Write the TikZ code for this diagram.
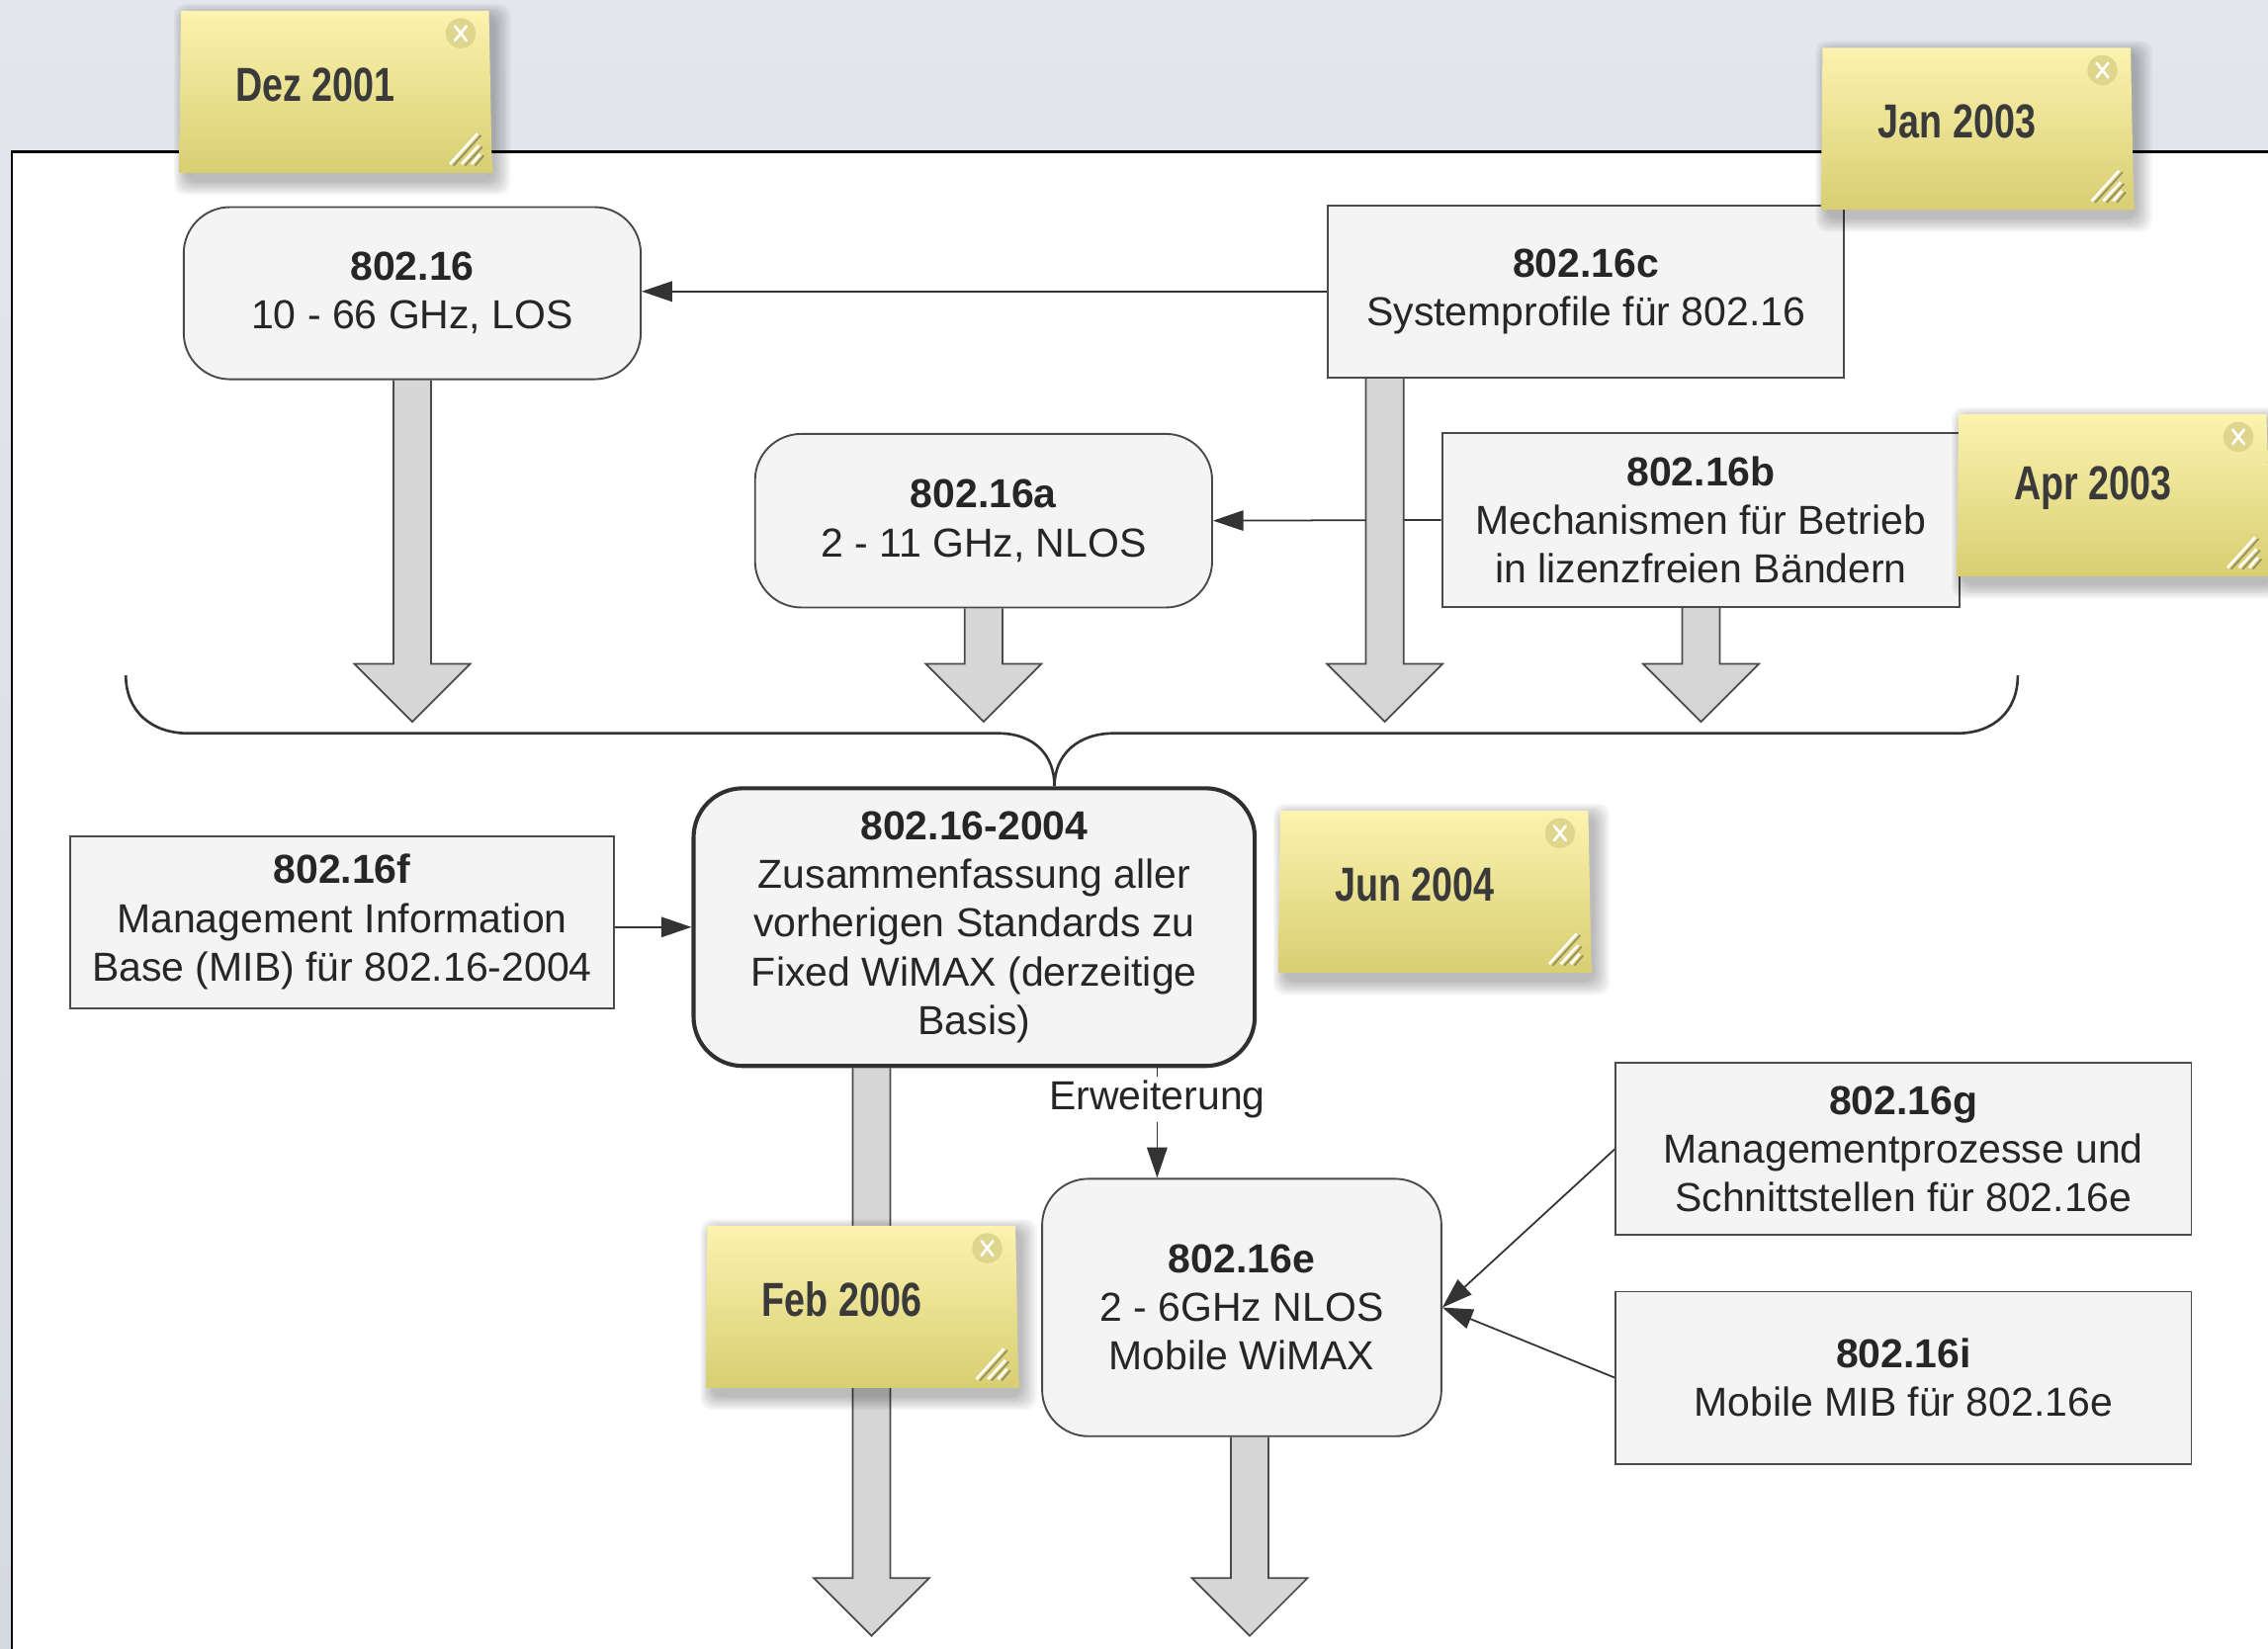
\documentclass[tikz,border=0pt]{standalone}
\usepackage{fontspec}
\setmainfont{Liberation Sans}
\newfontfamily\notefont{Liberation Sans}[FakeStretch=0.78]
\usetikzlibrary{arrows.meta,calc}
\pgfdeclarelayer{bg}
\pgfdeclarelayer{mid}
\pgfsetlayers{bg,mid,main}

\definecolor{bgTop}{HTML}{E3E6EB}
\definecolor{bgBot}{HTML}{D6DAE1}
\definecolor{boxfill}{HTML}{F4F4F4}
\definecolor{boxline}{HTML}{4A4A4A}
\definecolor{boxdark}{HTML}{303030}
\definecolor{linegray}{HTML}{333333}
\definecolor{textgray}{HTML}{262626}
\definecolor{shaftfill}{HTML}{D6D6D6}
\definecolor{noteTop}{HTML}{FBF3AF}
\definecolor{noteBot}{HTML}{D8CE72}
\definecolor{noteBtn}{HTML}{DFD68E}
\definecolor{noteText}{HTML}{3A3A3A}
\definecolor{noteGrip}{HTML}{7A7458}

% wide grey arrow pointing down: #1 start point, #2 gives the height of the tip
\newcommand\blockdown[2]{%
  \filldraw[blockarrow] let \p1=(#1), \p2=(#2) in
    (\x1-6.5pt,\y1) -- (\x1-6.5pt,\y2+20pt) -- (\x1-20pt,\y2+20pt) -- (\x1,\y2)
    -- (\x1+20pt,\y2+20pt) -- (\x1+6.5pt,\y2+20pt) -- (\x1+6.5pt,\y1);
}

% yellow sticky note: #1 name, #2/#3 top left corner, #4 text
\newcommand\stickynote[4]{%
  \begin{scope}[shift={(#2,#3)}]
    \foreach \k in {1,...,8}{%
      \fill[black, opacity=0.035, rounded corners=4pt]
        (5-\k*1.1, 4-\k*1.1) rectangle (217+\k*1.5, 117+\k*1.3);
    }
    \shade[top color=noteTop, bottom color=noteBot]
      (1,0) -- (214,0) -- (216,104) -- (217,112) -- (0,112) -- cycle;
    \fill[noteBtn] (194.5,15.5) circle [radius=5.2pt];
    \draw[white, line width=0.9pt, line cap=round]
      (190.5,10.5) -- (198.5,20.5) (190.5,20.5) -- (198.5,10.5);
    \draw[noteGrip, opacity=0.7, line width=0.6pt]
      (189.5,107) -- (208.5,86) (197.5,107) -- (209.5,94) (204.5,107) -- (210.5,100);
    \draw[white, line width=0.9pt]
      (187,106) -- (206,85) (195,106) -- (207,93) (202,106) -- (208,99);
    \node[notetext] (#1) at (94,51) {#4};
  \end{scope}
}

\tikzset{
  box/.style={draw=boxline, fill=boxfill, line width=0.65pt, align=center,
    inner sep=2pt, text=textgray, font=\fontsize{14}{16.85}\selectfont},
  rbox/.style={box, rounded corners=16pt},
  mainbox/.style={box, rounded corners=17pt, line width=1.4pt, draw=boxdark},
  link/.style={draw=linegray, line width=0.6pt},
  linkarrow/.style={link, -{Triangle[length=10.5pt,width=7pt]}},
  blockarrow/.style={fill=shaftfill, draw=boxline, line width=0.6pt, line join=miter},
  bracestyle/.style={draw=linegray, line width=0.9pt},
  notetext/.style={font=\notefont\bfseries\fontsize{16.5}{18}\selectfont,
    text=noteText, inner sep=0pt},
  lbl/.style={font=\fontsize{14}{16.85}\selectfont, text=textgray, inner sep=1pt},
}

\begin{document}
\begin{tikzpicture}[x=0.5pt, y=-0.5pt]
\useasboundingbox (0,0) rectangle (1568,1140);

% standards
\node[rbox, minimum width=158pt, minimum height=59.5pt] (s16) at (285,202.7)
  {\textbf{802.16}\\10 - 66 GHz, LOS};
\node[box, minimum width=178.5pt, minimum height=59.5pt] (s16c) at (1096.5,201.5)
  {\textbf{802.16c}\\Systemprofile für 802.16};
\node[rbox, minimum width=158pt, minimum height=60pt] (s16a) at (680,360)
  {\textbf{802.16a}\\2 - 11 GHz, NLOS};
\node[box, minimum width=179pt, minimum height=60pt] (s16b) at (1176,359.5)
  {\textbf{802.16b}\\Mechanismen für Betrieb\\in lizenzfreien Bändern};
\node[mainbox, minimum width=194pt, minimum height=96pt] (s2004) at (673.5,641)
  {\textbf{802.16-2004}\\Zusammenfassung aller\\vorherigen Standards zu\\Fixed WiMAX (derzeitige\\Basis)};
\node[box, minimum width=188pt, minimum height=59.5pt] (s16f) at (236.5,637.5)
  {\textbf{802.16f}\\Management Information\\Base (MIB) für 802.16-2004};
\node[rbox, minimum width=138pt, minimum height=89pt] (s16e) at (858.5,904)
  {\textbf{802.16e}\\2 - 6GHz NLOS\\Mobile WiMAX};
\node[box, minimum width=199pt, minimum height=59.5pt] (s16g) at (1316,794.5)
  {\textbf{802.16g}\\Managementprozesse und\\Schnittstellen für 802.16e};
\node[box, minimum width=199pt, minimum height=59.5pt] (s16i) at (1316,952.5)
  {\textbf{802.16i}\\Mobile MIB für 802.16e};
\node[lbl] (ext) at (800,760) {Erweiterung};

\coordinate (cusp) at ($(s2004.north)+(55.5,0)$);
\coordinate (mergeTip) at (730,499);
\coordinate (outTip) at (730,1131);

\begin{pgfonlayer}{mid}
  % thin connectors
  \draw[linkarrow] (s16c.west) -- (s16c.west -| s16.east);
  \draw[linkarrow] (s16b.west) -- (s16a.east);
  \draw[linkarrow] (s16f.east |- s2004.west) -- (s2004.west);
  \draw[link] (ext |- s2004.south) -- (ext.north);
  \draw[linkarrow] (ext.south) -- (ext |- s16e.north);
  \draw[linkarrow] (s16g.west) -- (s16e.east);
  \draw[linkarrow] (s16i.west) -- (s16e.east);
  % brace gathering the early amendments
  \draw[bracestyle] (87,467) .. controls (87,492) and (105,507) .. (130,507)
    -- (690,507) .. controls (715,507) and (729,522) .. (cusp)
    .. controls (729,522) and (745,507) .. (770,507)
    -- (1353,507) .. controls (1378,507) and (1395,492) .. (1395,467);
  % wide grey arrows
  \blockdown{s16.south}{mergeTip}
  \blockdown{s16a.south}{mergeTip}
  \blockdown{$(s16c.south west)+(40,0)$}{mergeTip}
  \blockdown{s16b.south}{mergeTip}
  \blockdown{$(s2004.south)+(-71,0)$}{outTip}
  \blockdown{$(s16e.south)+(5.5,0)$}{outTip}
\end{pgfonlayer}

\begin{pgfonlayer}{bg}
  \shade[top color=bgTop, bottom color=bgBot] (0,0) rectangle (1568,1140);
  \fill[white] (8,105) rectangle (1600,1160);
  \draw[black, line width=0.8pt] (8,1160) -- (8,105) -- (1600,105);
\end{pgfonlayer}

% dates
\stickynote{dez}{124}{7.5}{Dez 2001}
\stickynote{jan}{1259}{33}{Jan 2003}
\stickynote{apr}{1353}{286.5}{Apr 2003}
\stickynote{jun}{884}{560.5}{Jun 2004}
\stickynote{feb}{488}{847.5}{Feb 2006}
\end{tikzpicture}
\end{document}
